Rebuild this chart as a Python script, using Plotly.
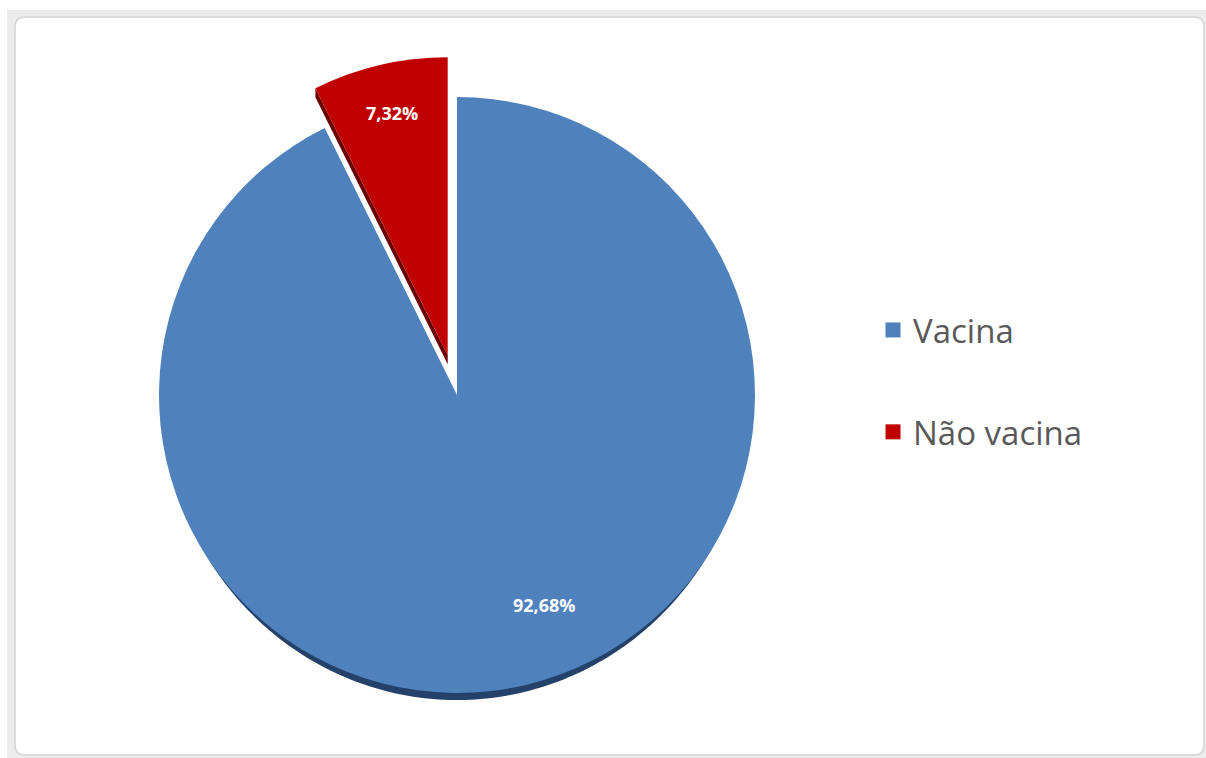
import numpy as np
import plotly.graph_objects as go

# ---- data ----
categories = ["Vacina", "Não vacina"]
values = [92.68, 7.32]
colors = ["#4F81BD", "#C00000"]
side_colors = ["#24416a", "#6b0000"]
pulls = [0, 0.137]

W, H = 1206, 758

def px(x):
    return x / W

def py(y):
    return 1 - y / H

# pie geometry (screen pixels)
cx, cy, rad = 457, 395, 298
half = rad * (1 + max(pulls))

fig = go.Figure()

fig.add_trace(go.Pie(
    labels=categories,
    values=values,
    sort=False,
    direction="clockwise",
    rotation=0,
    pull=pulls,
    marker=dict(colors=colors, line=dict(width=0)),
    textinfo="none",
    showlegend=False,
    hoverinfo="label+percent",
    domain=dict(x=[px(cx - half), px(cx + half)], y=[py(cy + half), py(cy - half)]),
))

# legend entries
for i, (name, col) in enumerate(zip(categories, colors)):
    fig.add_trace(go.Scatter(
        x=[None], y=[None], mode="markers", name=name,
        marker=dict(symbol="square", size=15, color=col),
        legendgroup=f"g{i}", showlegend=True,
    ))

# ---- frame ----
shapes = [
    dict(type="rect", xref="paper", yref="paper", x0=px(7), x1=1, y0=0, y1=py(10),
         fillcolor="#ececec", line=dict(width=0), layer="below"),
]
r = 10
x0, x1, y0, y1 = 15, 1204, 17, 755
path = (f"M {px(x0+r)},{py(y0)} L {px(x1-r)},{py(y0)} Q {px(x1)},{py(y0)} {px(x1)},{py(y0+r)} "
        f"L {px(x1)},{py(y1-r)} Q {px(x1)},{py(y1)} {px(x1-r)},{py(y1)} "
        f"L {px(x0+r)},{py(y1)} Q {px(x0)},{py(y1)} {px(x0)},{py(y1-r)} "
        f"L {px(x0)},{py(y0+r)} Q {px(x0)},{py(y0)} {px(x0+r)},{py(y0)} Z")
shapes.append(dict(type="path", xref="paper", yref="paper", path=path,
                   fillcolor="white", line=dict(color="#d4d4d4", width=1.5), layer="below"))

# ---- 3D side effects (decorative, derived from the pie geometry) ----
depth = 8
t0 = 0.5
t = np.linspace(t0, np.pi - t0, 120)
s0 = np.sin(t0)
th = depth * np.clip((np.sin(t) - s0) / (1 - s0), 0, 1) ** 0.8
pts = [(cx + (rad - 1) * np.cos(a), cy + (rad - 1) * np.sin(a) + h) for a, h in zip(t, th)]
spath = "M " + " L ".join(f"{px(a)},{py(b)}" for a, b in pts) + f" L {px(cx)},{py(cy)} Z"
shapes.append(dict(type="path", xref="paper", yref="paper", path=spath,
                   fillcolor=side_colors[0], line=dict(width=0), layer="below"))

total = sum(values)
start_frac = values[0] / total
mid_ang = np.radians(360 * (start_frac + 1) / 2)
edge_ang = np.radians(360 * start_frac)
pd = pulls[1] * rad
apex = (cx + pd * np.sin(mid_ang), cy - pd * np.cos(mid_ang))
outer = (apex[0] + rad * np.sin(edge_ang), apex[1] - rad * np.cos(edge_ang))
d2 = 9
band = [outer, apex, (apex[0], apex[1] + d2), (outer[0], outer[1] + d2)]
bpath = "M " + " L ".join(f"{px(a)},{py(b)}" for a, b in band) + " Z"
shapes.append(dict(type="path", xref="paper", yref="paper", path=bpath,
                   fillcolor=side_colors[1], line=dict(width=0), layer="below"))

# ---- percentage labels ----
pct_text = [f"{v / total * 100:.2f}%".replace(".", ",") for v in values]
label_pos = [(544, 605), (392, 113)]
annotations = [
    dict(x=px(lx), y=py(ly), xref="paper", yref="paper", text=f"<b>{tx}</b>",
         showarrow=False, xanchor="center", yanchor="middle",
         font=dict(family="Open Sans", size=18, color="white"))
    for tx, (lx, ly) in zip(pct_text, label_pos)
]

fig.update_layout(
    width=W, height=H,
    margin=dict(l=0, r=0, t=0, b=0),
    paper_bgcolor="white",
    plot_bgcolor="rgba(0,0,0,0)",
    shapes=shapes,
    annotations=annotations,
    xaxis=dict(visible=False),
    yaxis=dict(visible=False),
    legend=dict(
        x=px(873), y=py(381), xanchor="left", yanchor="middle",
        font=dict(family="Open Sans", size=33, color="#595959"),
        traceorder="grouped", tracegroupgap=56,
        bgcolor="rgba(0,0,0,0)", itemwidth=30,
    ),
)

fig.write_html("out.html", config={"displayModeBar": False},
               post_script="document.body.style.margin='0';")
